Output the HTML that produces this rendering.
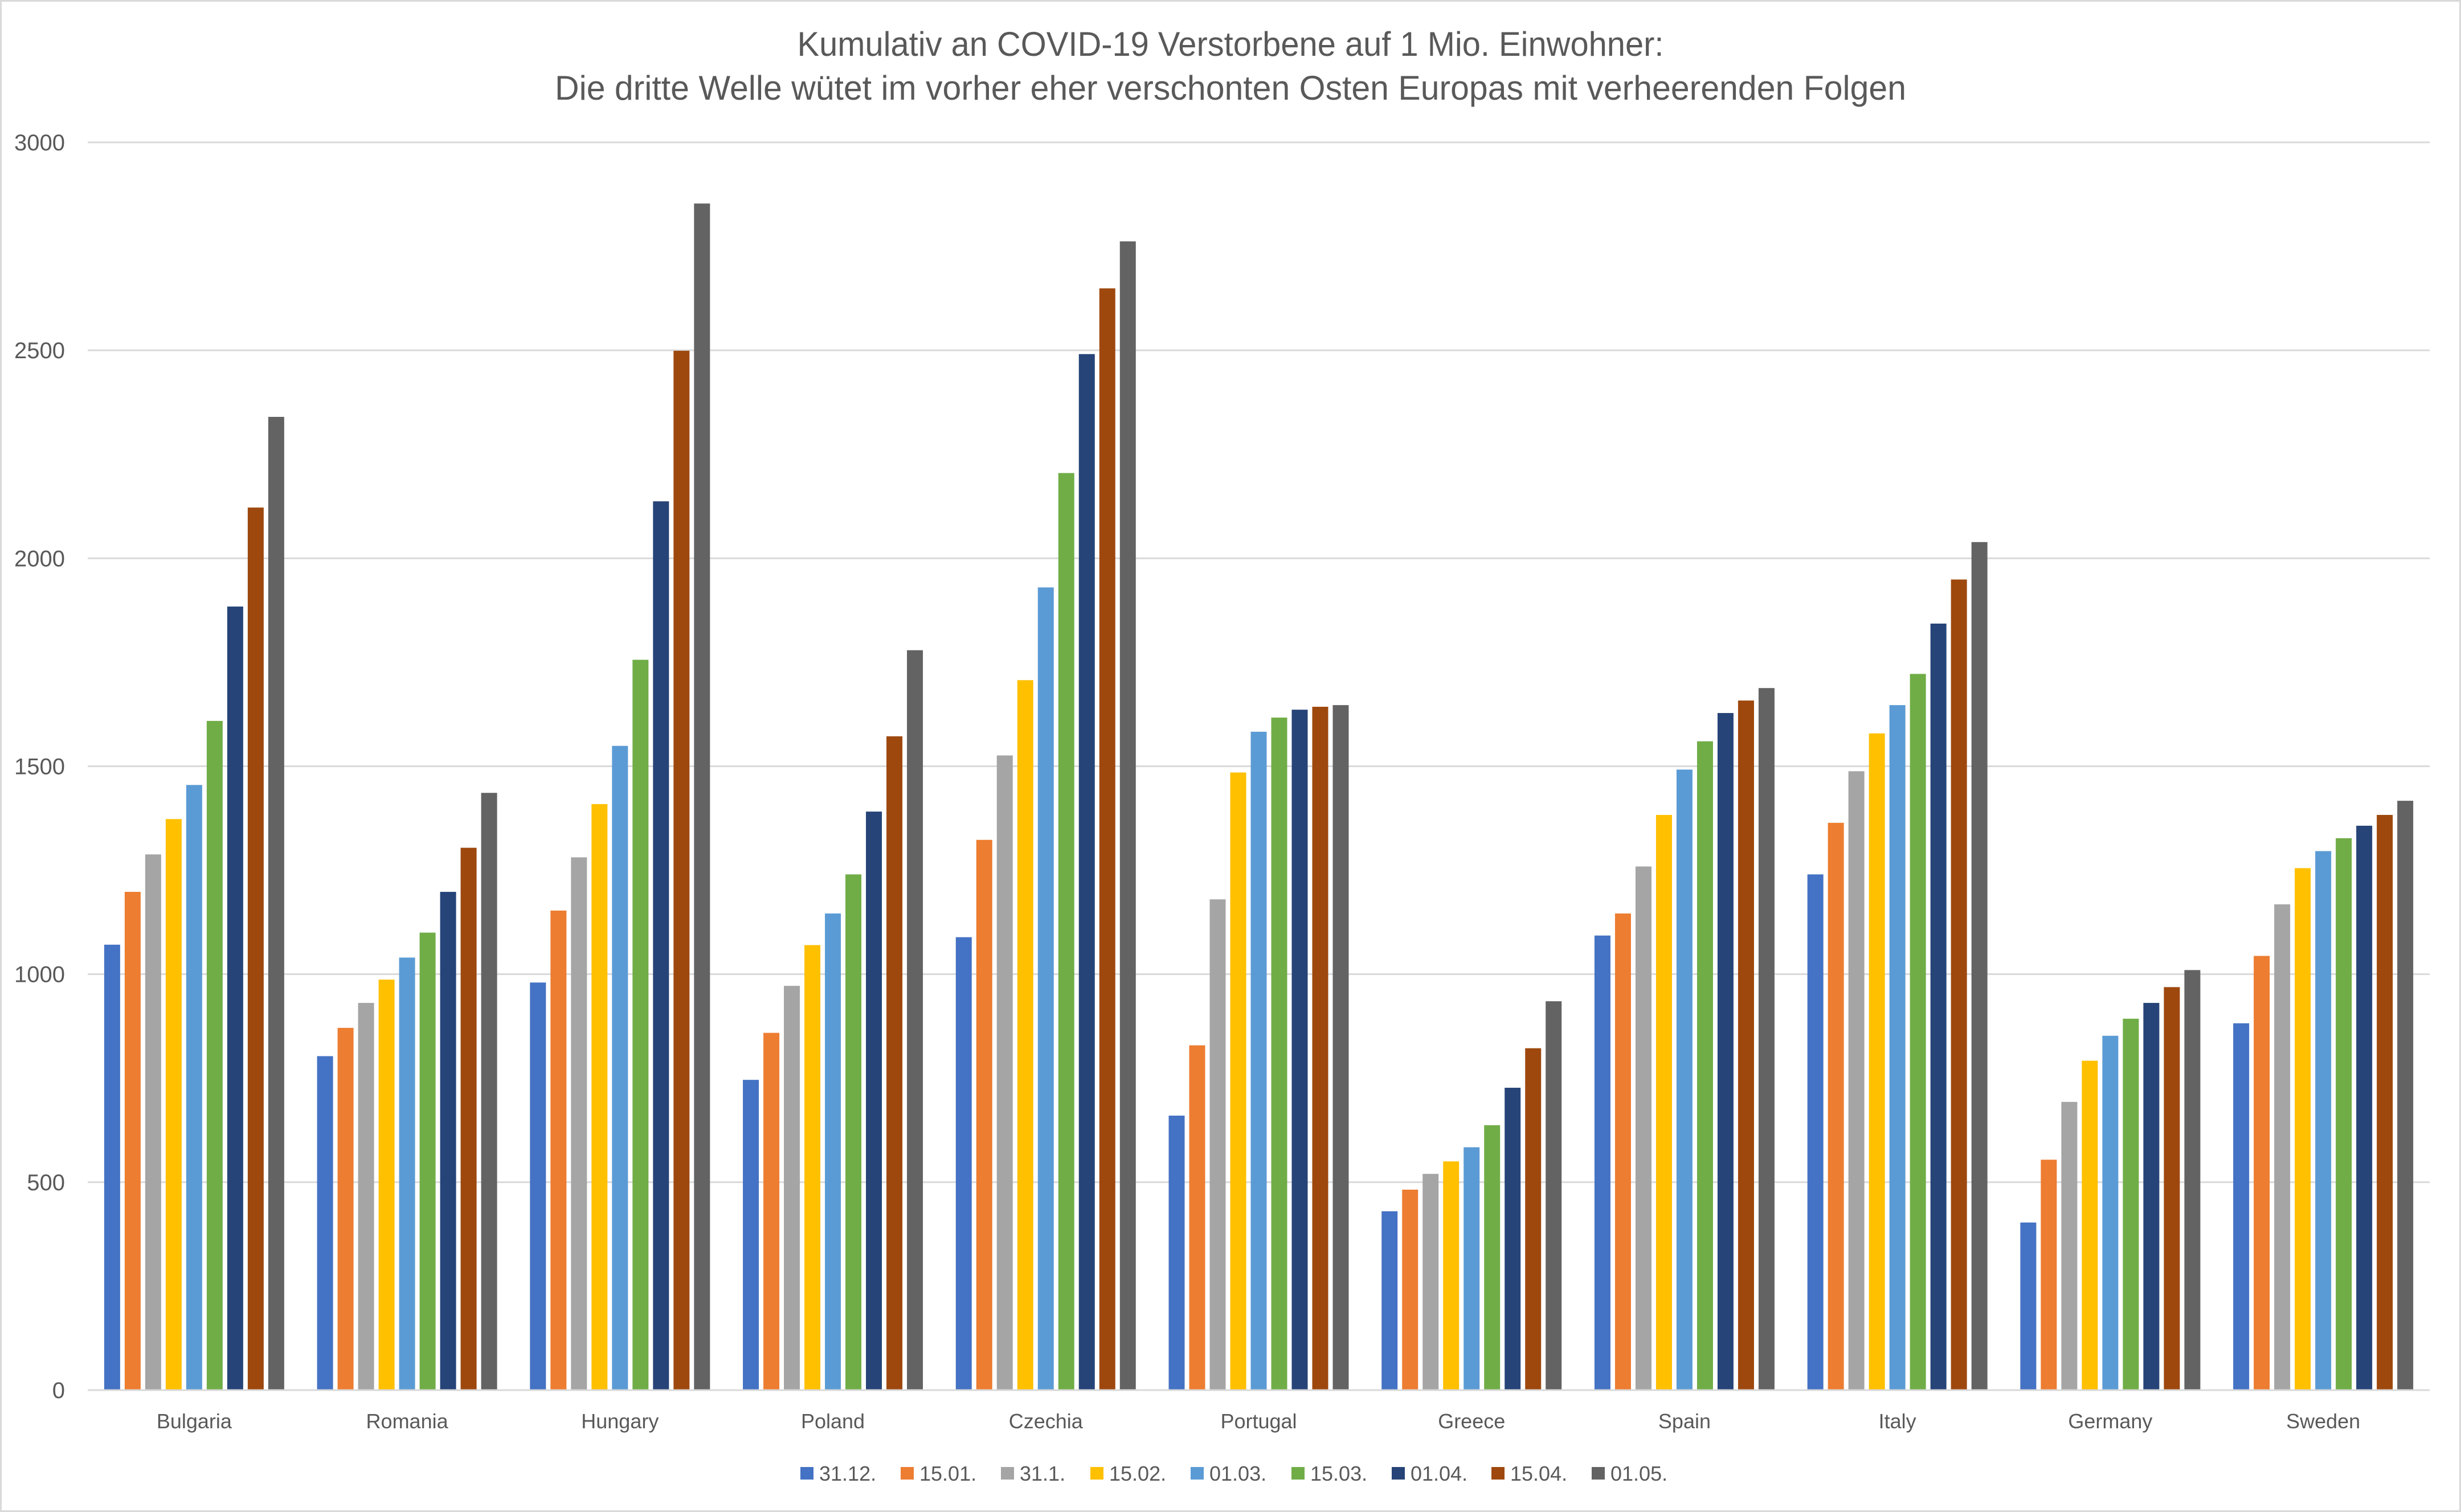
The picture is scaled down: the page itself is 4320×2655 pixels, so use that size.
<!DOCTYPE html>
<html><head><meta charset="utf-8"><style>
html,body{margin:0;padding:0;background:#fff;}
svg{display:block;}
text{font-family:"Liberation Sans",sans-serif;fill:#595959;}
</style></head><body>
<svg id="chart" width="4320" height="2655" viewBox="0 0 4320 2655" xmlns="http://www.w3.org/2000/svg">
<rect x="1.5" y="1.5" width="4317" height="2652" fill="#fff" stroke="#d9d9d9" stroke-width="3"/>
<text x="2160" y="98" text-anchor="middle" font-size="60" textLength="1521" lengthAdjust="spacingAndGlyphs">Kumulativ an COVID-19 Verstorbene auf 1 Mio. Einwohner:</text>
<text x="2160" y="175" text-anchor="middle" font-size="60" textLength="2372" lengthAdjust="spacingAndGlyphs">Die dritte Welle wütet im vorher eher verschonten Osten Europas mit verheerenden Folgen</text>
<g id="grid"></g>
<g id="bars"></g>
<g id="xlabels"></g>
<g id="legend"></g>
</svg>
<script>
const categories=["Bulgaria","Romania","Hungary","Poland","Czechia","Portugal","Greece","Spain","Italy","Germany","Sweden"];
const seriesNames=["31.12.","15.01.","31.1.","15.02.","01.03.","15.03.","01.04.","15.04.","01.05."];
const seriesColors=["#4472c4","#ed7d31","#a5a5a5","#ffc000","#5b9bd5","#70ad47","#264478","#9e480e","#636363"];
const s1=[1071,803,980,746,1089,660,430,1093,1240,403,882];
const s2=[1198,871,1153,859,1323,829,482,1146,1364,554,1044];
const s3=[1288,931,1281,972,1526,1180,520,1259,1488,693,1168];
const s4=[1373,987,1409,1070,1707,1485,550,1383,1579,792,1255];
const s5=[1455,1040,1549,1146,1930,1583,584,1492,1647,852,1296];
const s6=[1609,1100,1756,1240,2205,1617,637,1560,1722,893,1327];
const s7=[1884,1198,2137,1391,2491,1636,727,1628,1843,931,1357];
const s8=[2122,1304,2499,1572,2649,1643,822,1658,1949,969,1383];
const s9=[2340,1436,2853,1779,2762,1647,935,1688,2039,1010,1417];
const series=[s1,s2,s3,s4,s5,s6,s7,s8,s9];
const yTicks=[0,500,1000,1500,2000,2500,3000];

const NS="http://www.w3.org/2000/svg";
const plotL=154,plotR=4265,y0=2441,y3000=250,yMax=3000;
const catW=(plotR-plotL)/categories.length;
const yScale=v=>y0-(v/yMax)*(y0-y3000);
const barW=28,barStep=36;
const groupW=barStep*(seriesNames.length-1)+barW;
const xBar=(ci,si)=>plotL+ci*catW+(catW-groupW)/2+si*barStep;
function mk(tag,attrs,parent){const e=document.createElementNS(NS,tag);for(const k in attrs)e.setAttribute(k,attrs[k]);parent.appendChild(e);return e;}

const grid=document.getElementById('grid');
yTicks.forEach(t=>{
  const y=yScale(t);
  const l=mk('line',{x1:plotL,x2:plotR,y1:y,y2:y,stroke:'#d9d9d9','stroke-width':3},grid);
  
  
  const tx=mk('text',{x:114,y:y+14,'text-anchor':'end','font-size':40},grid);
  tx.textContent=t;
  
  
});

const bars=document.getElementById('bars');
series.forEach((vals,si)=>{
  vals.forEach((v,ci)=>{
    const y=yScale(v);
    const r=mk('rect',{x:xBar(ci,si),y:y,width:barW,height:y0-1.5-y,fill:seriesColors[si]},bars);
    
    
  });
});

const xl=document.getElementById('xlabels');
categories.forEach((c,ci)=>{
  const t=mk('text',{x:plotL+catW*(ci+0.5),y:2508,'text-anchor':'middle','font-size':36},xl);
  t.textContent=c;
  
  
});

const lg=document.getElementById('legend');
const legX=[1405,1581,1757,1914,2090,2267,2443,2618,2794];
seriesNames.forEach((n,si)=>{
  const g=mk('g',{},lg);
  
  
  mk('rect',{x:legX[si],y:2576,width:23,height:22,fill:seriesColors[si]},g);
  const t=mk('text',{x:legX[si]+33,y:2600,'font-size':36},g);
  t.textContent=n;
});
</script>
</body></html>
